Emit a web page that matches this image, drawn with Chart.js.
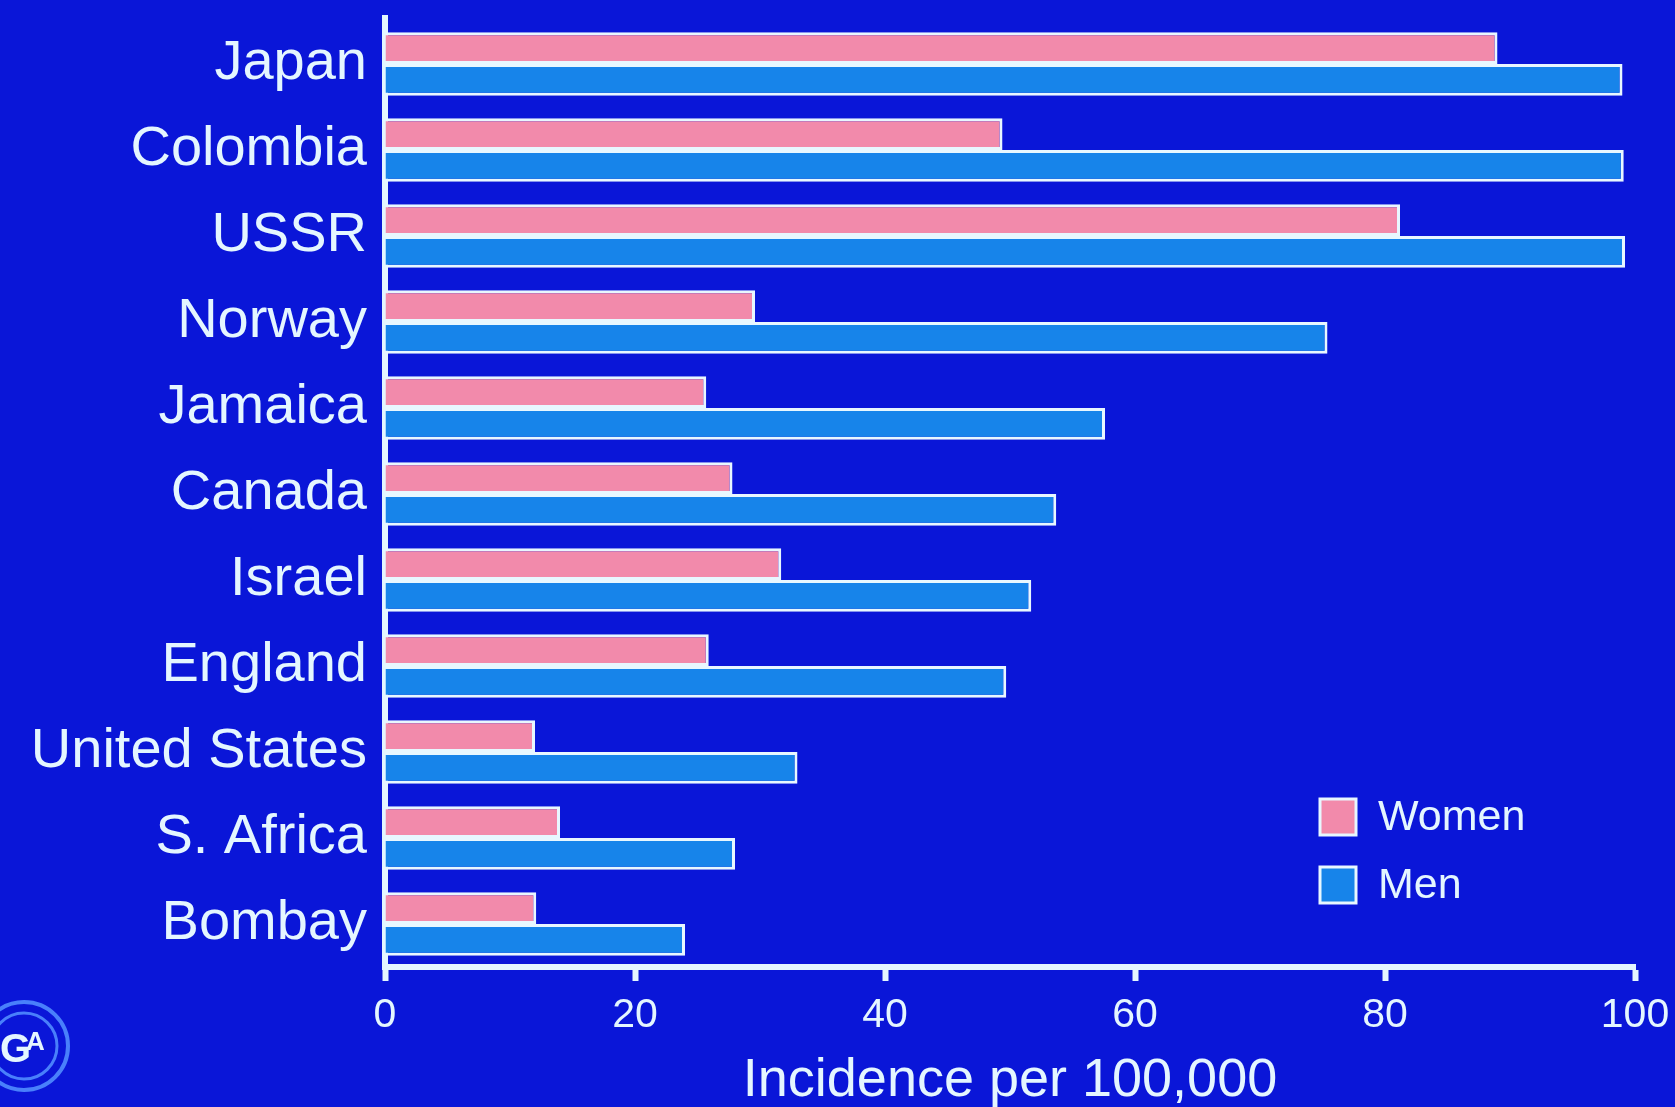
<!DOCTYPE html>
<html>
<head>
<meta charset="utf-8">
<title>Incidence per 100,000</title>
<script src="https://cdn.jsdelivr.net/npm/chart.js@4/dist/chart.umd.min.js"></script>
<style>
  html, body { margin: 0; padding: 0; background: #0a16d8; overflow: hidden; }
  canvas { display: block; }
</style>
</head>
<body>
<canvas id="chart" width="1675" height="1107"></canvas>
<script>
const countries = ['Japan', 'Colombia', 'USSR', 'Norway', 'Jamaica', 'Canada', 'Israel', 'England', 'United States', 'S. Africa', 'Bombay'];
const women = [89, 49.4, 81.2, 29.6, 25.7, 27.8, 31.7, 25.9, 12, 14, 12.1];
const men = [99, 99.1, 99.2, 75.4, 57.6, 53.7, 51.7, 49.7, 33, 28, 24];
const seriesNames = ['Women', 'Men'];
const axisTitle = 'Incidence per 100,000';

const bg = '#0a16d8';
const ink = '#e4f6ff';
const font = "'Liberation Sans', Arial, sans-serif";
const colors = ['#f28aab', '#1784ea'];

const createDataset = (label, data, color) => ({
  label: label,
  data: data,
  backgroundColor: color,
  borderColor: '#e8f7ff',
  borderWidth: 3,
  categoryPercentage: 0.74,
  barPercentage: 1.0,
});

// background, boxed legend at the lower right and the little GA mark
const slide = {
  id: 'slide',
  beforeDraw(chart) {
    const ctx = chart.ctx;
    ctx.save();
    ctx.fillStyle = bg;
    ctx.fillRect(0, 0, chart.width, chart.height);
    ctx.restore();
  },
  afterDraw(chart) {
    const ctx = chart.ctx;
    const area = chart.chartArea;
    ctx.save();
    // the value axis pokes a little above the plot
    ctx.strokeStyle = ink;
    ctx.lineWidth = 6;
    ctx.beginPath();
    ctx.moveTo(area.left, area.top + 2);
    ctx.lineTo(area.left, area.top - 6);
    ctx.stroke();

    chart.data.datasets.forEach((ds, i) => {
      const top = 799 + i * 68;
      ctx.fillStyle = ds.backgroundColor;
      ctx.fillRect(1320, top, 36, 36);
      ctx.strokeStyle = '#e8f7ff';
      ctx.lineWidth = 3;
      ctx.strokeRect(1320, top, 36, 36);
      ctx.fillStyle = ink;
      ctx.font = `43px ${font}`;
      ctx.textBaseline = 'middle';
      ctx.textAlign = 'left';
      ctx.fillText(ds.label, 1378, top + 19);
    });

    ctx.strokeStyle = 'rgba(80, 140, 255, 0.9)';
    ctx.lineWidth = 4;
    ctx.beginPath();
    ctx.arc(24, 1046, 44, 0, Math.PI * 2);
    ctx.stroke();
    ctx.lineWidth = 3;
    ctx.beginPath();
    ctx.arc(24, 1046, 33, 0, Math.PI * 2);
    ctx.stroke();
    ctx.fillStyle = ink;
    ctx.textBaseline = 'alphabetic';
    ctx.font = `bold 40px ${font}`;
    ctx.fillText('G', 0, 1062);
    ctx.font = `bold 26px ${font}`;
    ctx.fillText('A', 26, 1050);
    ctx.restore();
  }
};

const config = {
  type: 'bar',
  data: {
    labels: countries,
    datasets: [
      createDataset(seriesNames[0], women, colors[0]),
      createDataset(seriesNames[1], men, colors[1]),
    ]
  },
  options: {
    indexAxis: 'y',
    responsive: false,
    animation: false,
    layout: {padding: {top: 21, right: 40, bottom: 0, left: 0}},
    scales: {
      x: {
        type: 'linear',
        position: 'bottom',
        min: 0,
        max: 100,
        ticks: {stepSize: 20, color: ink, padding: 10, font: {family: font, size: 41}},
        grid: {drawOnChartArea: false, drawTicks: true, tickLength: 14, tickWidth: 6, tickColor: ink, color: ink},
        border: {display: true, color: ink, width: 6},
        title: {display: true, text: axisTitle, color: ink, padding: {top: 0, bottom: -7}, font: {family: font, size: 54}},
        afterFit: (scale) => {
          scale.height = 140;
          scale.paddingLeft = 0;
          scale.paddingRight = 0;
        },
      },
      y: {
        type: 'category',
        ticks: {color: ink, padding: 18, font: {family: font, size: 56}},
        grid: {display: false, drawTicks: false},
        border: {display: true, color: ink, width: 6},
        afterFit: (scale) => {
          scale.width = 385;
          scale.paddingTop = 0;
          scale.paddingBottom = 0;
        },
      },
    },
    plugins: {
      legend: {display: false},
      tooltip: {enabled: false},
    }
  },
  plugins: [slide]
};

new Chart(document.getElementById('chart'), config);
</script>
</body>
</html>
